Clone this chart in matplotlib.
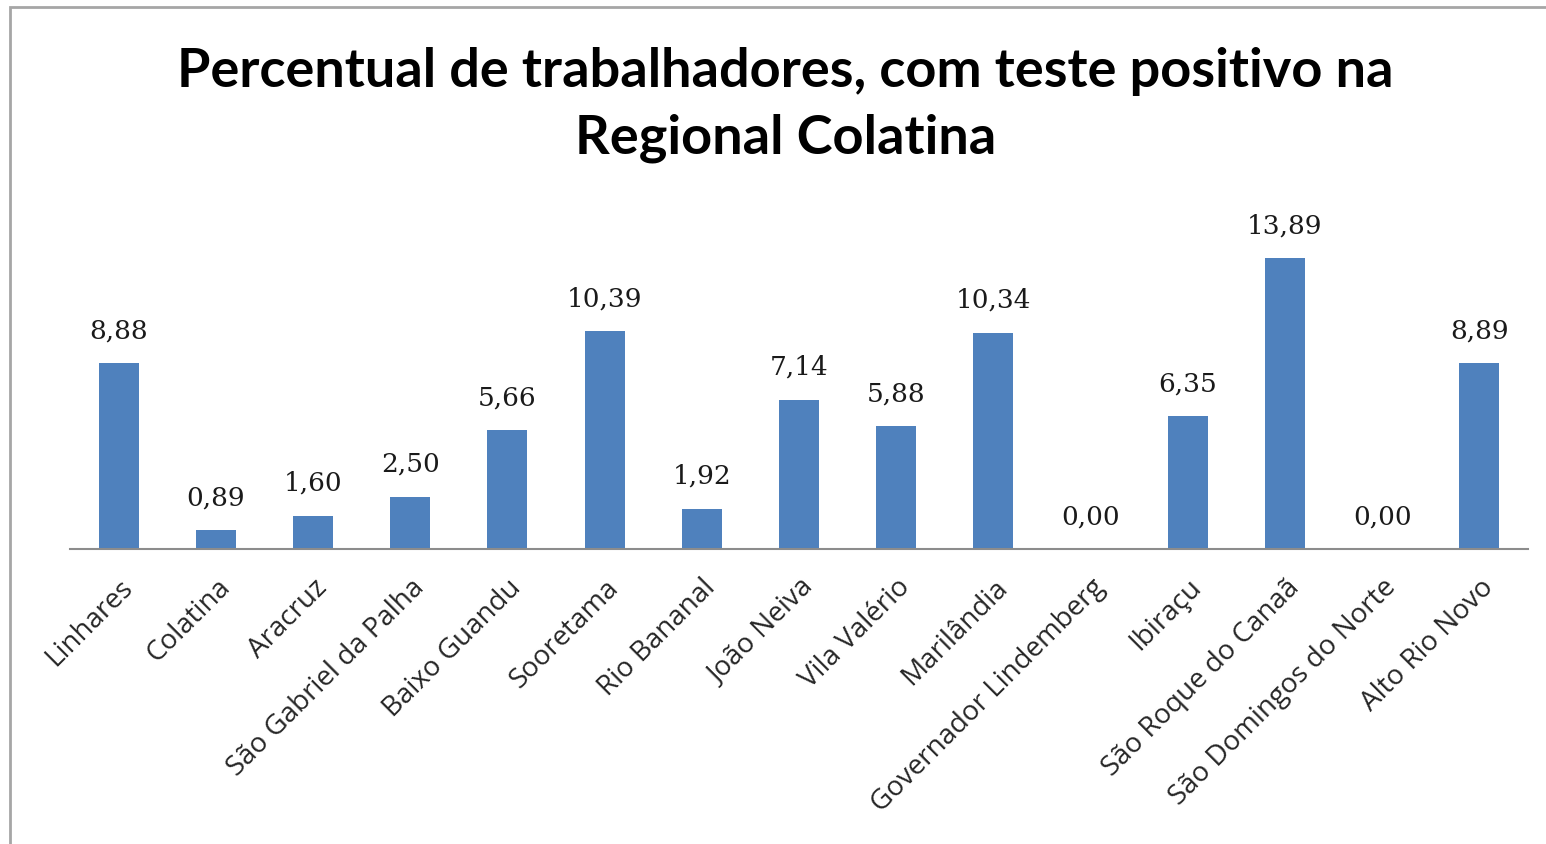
import matplotlib.pyplot as plt
from matplotlib.patches import Rectangle

# municipios da regional e percentual de positivos
municipios = ['Linhares', 'Colatina', 'Aracruz', 'São Gabriel da Palha', 'Baixo Guandu',
              'Sooretama', 'Rio Bananal', 'João Neiva', 'Vila Valério', 'Marilândia',
              'Governador Lindemberg', 'Ibiraçu', 'São Roque do Canaã',
              'São Domingos do Norte', 'Alto Rio Novo']
percentual = [8.88, 0.89, 1.60, 2.50, 5.66, 10.39, 1.92, 7.14, 5.88, 10.34,
              0.00, 6.35, 13.89, 0.00, 8.89]

W, H = 1546, 845
fig = plt.figure(figsize=(W / 100, H / 100), dpi=100)

# moldura cinza do grafico (sai pela direita e por baixo)
fig.patches.append(Rectangle((10 / W, -0.1), 1.2, 1 - 8 / H + 0.1, transform=fig.transFigure,
                             fill=False, edgecolor='#a6a6a6', linewidth=2, zorder=0))

ax = fig.add_axes([70 / W, (H - 550) / H, (1528 - 70) / W, 335 / H])
x = range(len(municipios))
bars = ax.bar(x, percentual, width=0.41, color='#4f81bd', zorder=2)

ax.set_xlim(-0.5, len(municipios) - 0.5)
ax.set_ylim(0, 16)

for rect, v in zip(bars, percentual):
    ax.annotate(f'{v:.2f}'.replace('.', ','), (rect.get_x() + rect.get_width() / 2, v),
                xytext=(0, 15), textcoords='offset points', ha='center', va='bottom',
                fontsize=19, family='DejaVu Serif', color='#1a1a1a')

for s in ['top', 'right', 'left']:
    ax.spines[s].set_visible(False)
ax.spines['bottom'].set_color('#8c8c8c')
ax.spines['bottom'].set_linewidth(1.5)
ax.set_yticks([])
ax.set_xticks(list(x))
ax.set_xticklabels(municipios, rotation=45, ha='right', rotation_mode='anchor',
                   fontsize=20, family='Open Sans', color='#262626')
ax.tick_params(axis='x', length=0, pad=17)

fig.text(0.508, 1 - 72 / H, 'Percentual de trabalhadores, com teste positivo na',
         ha='center', va='center', fontsize=39, fontweight='bold', family='Lato')
fig.text(0.508, 1 - 138 / H, 'Regional Colatina',
         ha='center', va='center', fontsize=39, fontweight='bold', family='Lato')

fig.savefig('out.png', dpi=100)
